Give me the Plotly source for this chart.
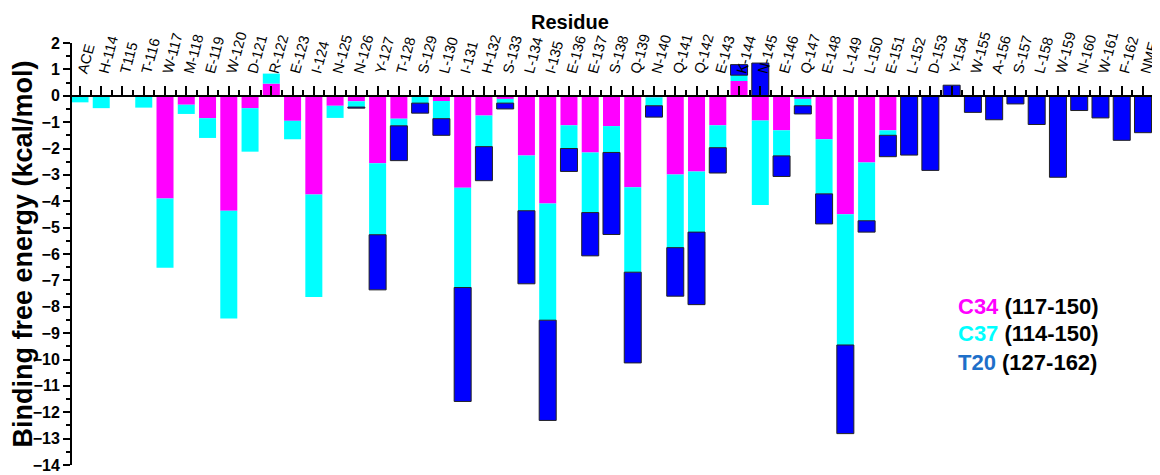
import numpy as np
import plotly.graph_objects as go

residues = ["ACE", "H-114", "T115", "T-116", "W-117", "M-118", "E-119", "W-120", "D-121", "R-122",
            "E-123", "I-124", "N-125", "N-126", "Y-127", "T-128", "S-129", "L-130", "I-131", "H-132",
            "S-133", "L-134", "I-135", "E-136", "E-137", "S-138", "Q-139", "N-140", "Q-141", "Q-142",
            "E-143", "K-144", "N-145", "E-146", "Q-147", "E-148", "L-149", "L-150", "E-151", "L-152",
            "D-153", "Y-154", "W-155", "A-156", "S-157", "L-158", "W-159", "N-160", "W-161", "F-162", "NME"]

c34 = [None, None, None, None, -3.90, -0.34, -0.85, -4.36, -0.47, 0.46,
       -0.95, -3.74, -0.38, -0.21, -2.56, -0.87, -0.03, -0.20, -3.49, -0.75,
       -0.12, -2.27, -4.09, -1.12, -2.15, -1.15, -3.47, -0.06, -2.99, -2.87,
       -1.12, 0.56, -0.94, -1.31, -0.12, -1.65, -4.49, -2.53, -1.31, None,
       None, None, None, None, None, None, None, None, None, None, None]

c37 = [-0.25, -0.47, None, -0.45, -2.62, -0.35, -0.75, -4.09, -1.65, 0.38,
       -0.70, -3.89, -0.46, -0.22, -2.71, -0.27, -0.25, -0.67, -3.78, -1.18,
       -0.16, -2.09, -4.42, -0.88, -2.28, -1.00, -3.22, -0.32, -2.77, -2.30,
       -0.85, 0.22, -3.20, -0.97, -0.26, -2.07, -4.96, -2.21, -0.19, None,
       None, None, None, None, None, None, None, None, None, None, None]

t20 = [None, None, None, None, None, None, None, None, None, None,
       None, None, None, -0.04, -2.09, -1.32, -0.38, -0.63, -4.32, -1.29,
       -0.22, -2.77, -3.80, -0.87, -1.64, -3.11, -3.44, -0.43, -1.84, -2.75,
       -0.96, 0.40, 1.24, -0.78, -0.31, -1.14, -3.36, -0.43, -0.81, -2.25,
       -2.83, 0.40, -0.63, -0.91, -0.31, -1.09, -3.09, -0.56, -0.84, -1.69, -1.40]

legend_items = [("C34", "(117-150)", "#FF00FF"),
                ("C37", "(114-150)", "#00FFFF"),
                ("T20", "(127-162)", "#1E6FC9")]

xpos = np.arange(len(residues))
FONT = "Liberation Sans, Arial, sans-serif"

fig = go.Figure()
fig.add_trace(go.Bar(x=xpos, y=c34, name="C34", width=0.8,
                     marker=dict(color="#FF00FF", line=dict(width=0))))
fig.add_trace(go.Bar(x=xpos, y=c37, name="C37", width=0.8,
                     marker=dict(color="#00FFFF", line=dict(width=0))))
fig.add_trace(go.Bar(x=xpos, y=t20, name="T20", width=0.8,
                     marker=dict(color="#0000FF", line=dict(width=1, color="#222222"))))

# the page body has an 8px default margin, so the figure is 8px smaller
fig.update_layout(
    width=1152, height=467,
    barmode="relative",
    showlegend=False,
    plot_bgcolor="white", paper_bgcolor="white",
    margin=dict(l=64, r=0, t=35, b=10, autoexpand=False),
    font=dict(family=FONT, color="black"),
    xaxis=dict(
        range=[-0.375, 50.8], automargin=False,
        tickmode="array", tickvals=xpos, ticktext=residues,
        side="top", anchor="free", position=0.875,
        ticklabeloverflow="allow",
        showline=True, linecolor="black", linewidth=2,
        ticks="outside", ticklen=9, tickwidth=1.5, tickcolor="black",
        tickangle=-75, tickfont=dict(size=14.5, family=FONT, color="black"),
        minor=dict(tickmode="linear", tick0=0.5, dtick=1, ticks="outside",
                   ticklen=5, tickwidth=1.5, tickcolor="black"),
        showgrid=False, zeroline=False,
    ),
    yaxis=dict(
        range=[-14, 2], domain=[0, 1], automargin=False,
        tickmode="linear", tick0=0, dtick=1,
        ticklabeloverflow="allow",
        showline=True, linecolor="black", linewidth=2,
        ticks="outside", ticklen=7, tickwidth=2, tickcolor="black",
        minor=dict(tickmode="linear", tick0=0.5, dtick=1, ticks="outside",
                   ticklen=4, tickwidth=1.5, tickcolor="black"),
        tickfont=dict(size=16, family=FONT, color="black", weight="bold"),
        title=dict(text="Binding free energy (kcal/mol)", standoff=0,
                   font=dict(size=27, family=FONT, color="black", weight="bold")),
        showgrid=False, zeroline=False,
    ),
)

fig.add_annotation(text="<b>Residue</b>", xref="paper", yref="paper",
                   x=0.458, y=1.05, yanchor="middle", showarrow=False,
                   font=dict(size=20, family=FONT, color="black"))

ys = [0.376, 0.311, 0.243]
for (name, rng, col), yy in zip(legend_items, ys):
    fig.add_annotation(
        text=f"<b><span style='color:{col}'>{name}</span> {rng}</b>",
        xref="paper", yref="paper", x=0.8125, y=yy, xanchor="left", yanchor="middle",
        showarrow=False, font=dict(size=22, family=FONT, color="black"))

fig.write_html("out.html")
